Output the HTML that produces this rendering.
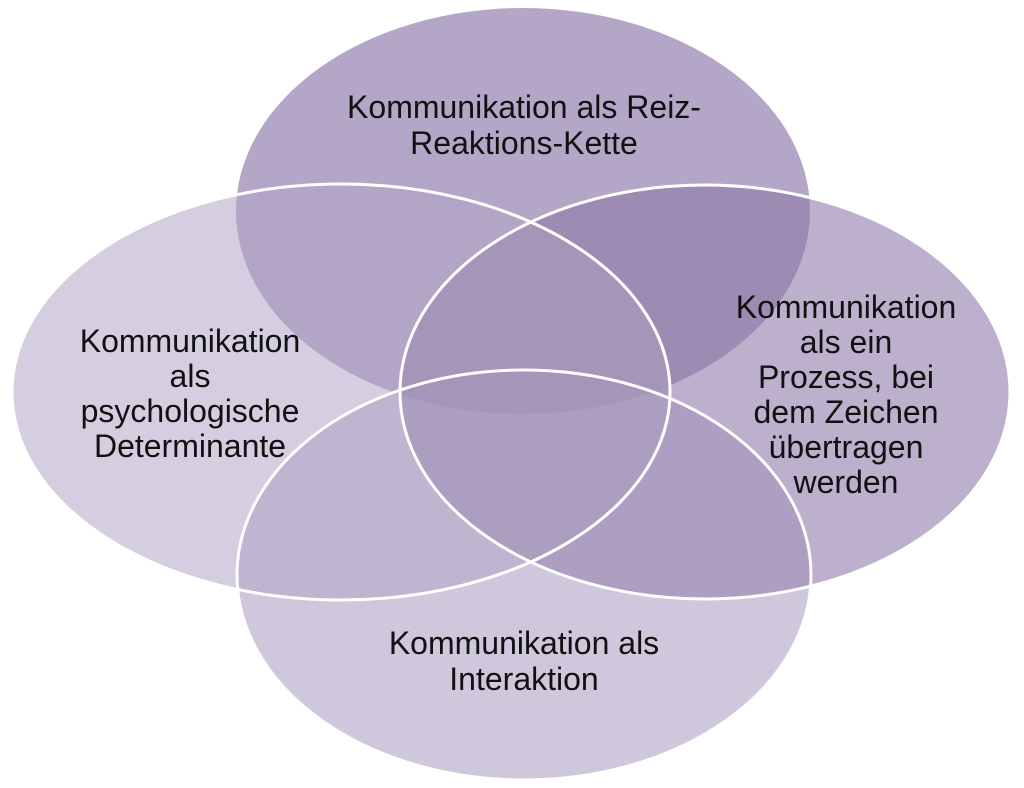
<!DOCTYPE html>
<html><head><meta charset="utf-8"><style>
html,body{margin:0;padding:0;background:#fff;}
svg{display:block;}
text{font-family:"Liberation Sans",Arial,sans-serif;font-size:32px;fill:#111;text-anchor:middle;}
</style></head><body>
<svg width="1024" height="788" viewBox="0 0 1024 788">
<defs>
<clipPath id="T"><ellipse cx="523" cy="211" rx="287" ry="203"/></clipPath>
<clipPath id="L"><ellipse cx="341" cy="392" rx="329" ry="208"/></clipPath>
<clipPath id="R"><ellipse cx="705" cy="392" rx="305" ry="207"/></clipPath>
<clipPath id="B"><ellipse cx="524" cy="575" rx="287" ry="205"/></clipPath>
</defs>
<ellipse cx="523" cy="211" rx="287" ry="203" fill="#b4a6c7"/>
<ellipse cx="341" cy="392" rx="329" ry="208" fill="#d5cde0"/>
<ellipse cx="705" cy="392" rx="305" ry="207" fill="#bcb0cd"/>
<ellipse cx="524" cy="575" rx="287" ry="205" fill="#cfc7db"/>
<g clip-path="url(#T)"><ellipse cx="341" cy="392" rx="329" ry="208" fill="#b2a5c5"/></g>
<g clip-path="url(#T)"><ellipse cx="705" cy="392" rx="305" ry="207" fill="#9d8bb3"/></g>
<g clip-path="url(#L)"><ellipse cx="705" cy="392" rx="305" ry="207" fill="#a899bb"/></g>
<g clip-path="url(#L)"><ellipse cx="524" cy="575" rx="287" ry="205" fill="#c0b5d0"/></g>
<g clip-path="url(#R)"><ellipse cx="524" cy="575" rx="287" ry="205" fill="#ae9fc2"/></g>
<g clip-path="url(#T)"><g clip-path="url(#L)"><ellipse cx="524" cy="575" rx="287" ry="205" fill="#b0a3c4"/></g></g>
<g clip-path="url(#L)"><g clip-path="url(#R)"><ellipse cx="524" cy="575" rx="287" ry="205" fill="#ab9ebe"/></g></g>
<g clip-path="url(#T)"><g clip-path="url(#L)"><ellipse cx="705" cy="392" rx="305" ry="207" fill="#a596b9"/></g></g>
<g fill="none" stroke="#fff" stroke-width="3">
<ellipse cx="341" cy="392" rx="329" ry="208"/>
<ellipse cx="705" cy="392" rx="305" ry="207"/>
<ellipse cx="524" cy="575" rx="287" ry="205"/>
</g>
<g style="font-size:34px">
<text x="524" y="118">Kommunikation als Reiz-</text>
<text x="524" y="154">Reaktions-Kette</text>
<text x="190" y="352">Kommunikation</text>
<text x="190" y="387">als</text>
<text x="190" y="422">psychologische</text>
<text x="190" y="457">Determinante</text>
<text x="846" y="318">Kommunikation</text>
<text x="846" y="353">als ein</text>
<text x="846" y="388">Prozess, bei</text>
<text x="846" y="423">dem Zeichen</text>
<text x="846" y="458">übertragen</text>
<text x="846" y="493">werden</text>
<text x="524" y="654">Kommunikation als</text>
<text x="524" y="690">Interaktion</text>
</g>
</svg>
</body></html>
